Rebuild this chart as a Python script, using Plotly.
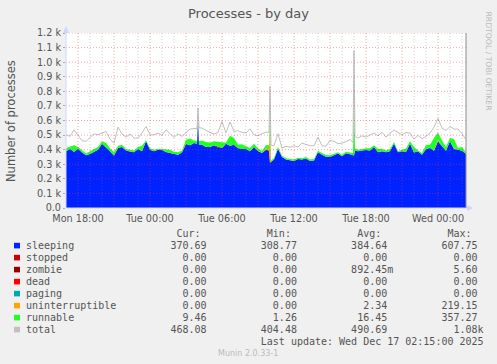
import plotly.graph_objects as go
import pandas as pd

# ---------------- data (20-minute samples, Mon 17:00 -> Wed 02:20) ----------------
grid_times = pd.date_range("2025-12-15 17:00", periods=101, freq="20min")

sleeping = [
    389, 405, 384, 407, 380, 361, 370, 384, 400, 441,
    416, 389, 359, 411, 418, 395, 386, 382, 405, 389,
    457, 400, 389, 400, 398, 384, 377, 373, 366, 382,
    439, 430, 445, 600, 434, 418, 418, 430, 414, 411,
    441, 427, 434, 409, 405, 405, 389, 418, 391, 377,
    400, 310, 332, 407, 350, 332, 330, 323, 336, 332,
    339, 323, 325, 382, 366, 352, 350, 359, 373, 355,
    375, 368, 360, 389, 395, 398, 395, 418, 382, 389,
    382, 389, 441, 382, 389, 382, 441, 380, 389, 366,
    405, 411, 393, 457, 423, 393, 457, 405, 400, 393,
    371,
]
runnable = [
    22, 18, 45, 11, 13, 12, 19, 21, 18, 16,
    29, 20, 23, 16, 16, 10, 14, 13, 13, 38,
    8, 9, 11, 7, 7, 21, 23, 13, 16, 13,
    29, 47, 18, 15, 29, 34, 32, 27, 34, 41,
    6, 69, 46, 25, 33, 18, 22, 23, 14, 14,
    22, 100, 11, 11, 9, 9, 9, 9, 9, 9,
    9, 9, 11, 11, 11, 12, 11, 11, 9, 11,
    11, 12, 357, 11, 12, 11, 14, 12, 23, 18,
    13, 16, 11, 7, 11, 23, 16, 38, 6, 11,
    27, 23, 87, 51, 40, 25, 23, 63, 11, 25,
    9.46,
]
uninterruptible = [
    0, 0, 0, 0, 0, 0, 0, 0, 0, 0,
    0, 0, 0, 0, 0, 0, 0, 0, 0, 0,
    0, 0, 0, 0, 0, 0, 0, 0, 0, 0,
    0, 0, 0, 0, 0, 0, 0, 0, 0, 0,
    0, 0, 0, 0, 0, 0, 0, 0, 4, 0,
    10, 219, 0, 0, 0, 0, 0, 0, 0, 0,
    0, 0, 0, 0, 0, 0, 0, 0, 0, 0,
    0, 0, 0, 0, 0, 0, 0, 0, 0, 0,
    0, 0, 0, 0, 0, 0, 0, 0, 0, 0,
    0, 0, 0, 10, 0, 0, 0, 5, 0, 0,
    0,
]
zombie = [
    0, 0, 1, 0, 0, 0, 0, 0, 0, 0,
    0, 0, 2, 0, 0, 0, 0, 0, 0, 0,
    0, 0, 0, 0, 0, 0, 0, 0, 0, 0,
    0, 0, 0, 0, 0, 0, 0, 0, 5.6, 0,
    0, 0, 0, 0, 0, 0, 0, 0, 0, 0,
    0, 0, 0, 0, 0, 0, 0, 0, 0, 0,
    1, 0, 0, 0, 0, 0, 0, 0, 0, 0,
    0, 0, 0, 0, 0, 0, 0, 0, 0, 0,
    0, 0, 0, 0, 0, 3, 0, 0, 0, 0,
    0, 0, 0, 0, 0, 0, 0, 0, 0, 0,
    0,
]
total = [
    502, 491, 536, 495, 461, 457, 480, 509, 502, 514,
    525, 473, 445, 555, 507, 486, 507, 480, 480, 514,
    559, 502, 502, 514, 498, 536, 507, 484, 509, 491,
    518, 541, 545, 686, 548, 530, 518, 507, 518, 594,
    514, 590, 525, 530, 518, 514, 543, 502, 495, 509,
    520, 834, 427, 509, 411, 423, 416, 427, 418, 445,
    434, 427, 427, 486, 427, 423, 464, 457, 441, 445,
    455, 470, 1080, 480, 495, 486, 500, 514, 495, 520,
    486, 509, 536, 518, 502, 518, 514, 473, 498, 475,
    491, 514, 555, 615, 548, 532, 559, 541, 541, 509,
    468,
]

# extra 5-minute samples beside the three narrow spikes
extra_times = ["2025-12-16 03:55", "2025-12-16 04:05", "2025-12-16 09:55",
               "2025-12-16 10:05", "2025-12-16 16:55", "2025-12-16 17:05"]
extra_sleeping = [440, 435, 395, 315, 365, 395]
extra_runnable = [20, 25, 30, 10, 12, 15]
extra_uninterruptible = [0, 0, 5, 0, 0, 0]
extra_zombie = [0, 0, 0, 0, 0, 0]
extra_total = [545, 550, 520, 430, 450, 490]

series_names = ["sleeping", "stopped", "zombie", "dead", "paging",
                "uninterruptible", "runnable", "total"]
series_colors = ["#0022FF", "#CC0000", "#990000", "#FF0000", "#00AAAA",
                 "#FFA500", "#22FF22", "#C0C0C0"]
stats_cur = ["370.69", "0.00", "0.00", "0.00", "0.00", "0.00", "9.46", "468.08"]
stats_min = ["308.77", "0.00", "0.00", "0.00", "0.00", "0.00", "1.26", "404.48"]
stats_avg = ["384.64", "0.00", "892.45m", "0.00", "0.00", "2.34", "16.45", "490.69"]
stats_max = ["607.75", "0.00", "5.60", "0.00", "0.00", "219.15", "357.27", "1.08k"]

y_tickvals = [0, 100, 200, 300, 400, 500, 600, 700, 800, 900, 1000, 1100, 1200]
y_ticktext = ["0.0", "0.1 k", "0.2 k", "0.3 k", "0.4 k", "0.5 k", "0.6 k",
              "0.7 k", "0.8 k", "0.9 k", "1.0 k", "1.1 k", "1.2 k"]
x_tickvals = ["2025-12-15 18:00", "2025-12-16 00:00", "2025-12-16 06:00",
              "2025-12-16 12:00", "2025-12-16 18:00", "2025-12-17 00:00"]
x_ticktext = ["Mon 18:00", "Tue 00:00", "Tue 06:00", "Tue 12:00",
              "Tue 18:00", "Wed 00:00"]

# merge grid samples and extra samples into one time-ordered table
df = pd.concat([
    pd.DataFrame({"t": grid_times, "sleeping": sleeping, "runnable": runnable,
                  "uninterruptible": uninterruptible, "zombie": zombie, "total": total}),
    pd.DataFrame({"t": pd.to_datetime(extra_times), "sleeping": extra_sleeping,
                  "runnable": extra_runnable, "uninterruptible": extra_uninterruptible,
                  "zombie": extra_zombie, "total": extra_total}),
]).sort_values("t").reset_index(drop=True)
df["stopped"] = 0.0
df["dead"] = 0.0
df["paging"] = 0.0

# ---------------- geometry helpers ----------------
W, H = 497, 364
L, R, T, B = 66, 31, 33, 156
PW, PH = W - L - R, H - T - B


def px(xp):
    return (xp - L) / PW


def py(yp):
    return (H - B - yp) / PH


TEXT = "#555555"
NB = "\u00a0"

fig = go.Figure()
for name, col in zip(series_names[:7], series_colors[:7]):
    fig.add_trace(go.Scatter(x=df["t"], y=df[name], name=name, mode="lines",
                             stackgroup="procs", line=dict(width=0, color=col),
                             fillcolor=col, hoverinfo="skip"))
fig.add_trace(go.Scatter(x=df["t"], y=df["total"], name="total", mode="lines",
                         line=dict(width=1, color=series_colors[7]), hoverinfo="skip"))

shapes = []
# grid (drawn above the data, like rrdtool)
for h in pd.date_range("2025-12-15 18:00", "2025-12-17 02:00", freq="1h"):
    red = h.hour % 3 == 0
    shapes.append(dict(type="line", xref="x", yref="paper", x0=h, x1=h, y0=0, y1=1,
                       layer="above",
                       line=dict(width=1, dash="1px,2px",
                                 color="rgba(235,60,60,0.45)" if red else "rgba(120,120,120,0.35)")))
for v in y_tickvals[1:]:
    shapes.append(dict(type="line", xref="paper", yref="y", x0=0, x1=1, y0=v, y1=v,
                       layer="above",
                       line=dict(width=1, dash="1px,2px", color="rgba(235,60,60,0.45)")))
# axes with arrows
AX = "#CFD6F8"
shapes.append(dict(type="line", xref="paper", yref="paper", x0=0, x1=0, y0=0, y1=py(28),
                   layer="above", line=dict(width=1, color=AX)))
shapes.append(dict(type="line", xref="paper", yref="paper", x0=0, x1=px(471), y0=0, y1=0,
                   layer="above", line=dict(width=1, color=AX)))
shapes.append(dict(type="path", xref="paper", yref="paper",
                   path=f"M {px(63)} {py(33)} L {px(69)} {py(33)} L {px(66)} {py(26)} Z",
                   fillcolor=AX, line=dict(width=0), layer="above"))
shapes.append(dict(type="path", xref="paper", yref="paper",
                   path=f"M {px(467)} {py(205)} L {px(467)} {py(211)} L {px(473)} {py(208)} Z",
                   fillcolor=AX, line=dict(width=0), layer="above"))
# right border rule
shapes.append(dict(type="line", xref="paper", yref="paper", x0=1, x1=1, y0=0, y1=1,
                   layer="above", line=dict(width=1, color="#8C8C8C")))

annotations = []
annotations.append(dict(text="Processes - by day", x=px(248), y=py(13.5), xref="paper", yref="paper",
                        showarrow=False, xanchor="center", yanchor="middle",
                        font=dict(family="DejaVu Sans", size=13, color=TEXT)))
annotations.append(dict(text="Number of processes", x=px(11), y=py(121), xref="paper", yref="paper",
                        showarrow=False, textangle=-90, xanchor="center", yanchor="middle",
                        font=dict(family="DejaVu Sans", size=11.5, color=TEXT)))
annotations.append(dict(text="RRDTOOL / TOBI OETIKER", x=px(488.5), y=py(62), xref="paper", yref="paper",
                        showarrow=False, textangle=90, xanchor="center", yanchor="middle",
                        font=dict(family="DejaVu Sans", size=7.7, color="#BBBBBB")))
annotations.append(dict(text="Munin 2.0.33-1", x=px(248), y=py(353.3), xref="paper", yref="paper",
                        showarrow=False, xanchor="center", yanchor="middle",
                        font=dict(family="DejaVu Sans", size=8, color="#BBBBBB")))

MONO = dict(family="DejaVu Sans Mono", size=10, color=TEXT)
X0 = 24.2
ROW0 = 245.6
header = " " * 25 + "Cur:" + " " * 11 + "Min:" + " " * 11 + "Avg:" + " " * 11 + "Max:"
annotations.append(dict(text=header.replace(" ", NB), x=px(X0), y=py(ROW0 - 12), xref="paper",
                        yref="paper", showarrow=False, xanchor="left", yanchor="middle", font=MONO))


def cell(s):
    if s[-1] in "mk":
        return s[:-1].rjust(6) + s[-1]
    return s.rjust(6) + " "


for k, name in enumerate(series_names):
    yc = ROW0 + 12 * k
    line = (name.ljust(24) + cell(stats_cur[k]) + " " * 8 + cell(stats_min[k]) + " " * 8
            + cell(stats_avg[k]) + " " * 8 + cell(stats_max[k]))
    annotations.append(dict(text=line.replace(" ", NB), x=px(X0), y=py(yc), xref="paper",
                            yref="paper", showarrow=False, xanchor="left", yanchor="middle",
                            font=MONO))
    shapes.append(dict(type="rect", xref="paper", yref="paper", x0=px(14), x1=px(20),
                       y0=py(yc - 2.8), y1=py(yc + 2.8), fillcolor=series_colors[k],
                       line=dict(width=0)))

last = " " * 39 + "Last update: Wed Dec 17 02:15:00 2025"
annotations.append(dict(text=last.replace(" ", NB), x=px(X0), y=py(ROW0 + 12 * 8), xref="paper",
                        yref="paper", showarrow=False, xanchor="left", yanchor="middle", font=MONO))

fig.update_layout(
    width=W, height=H, autosize=False,
    margin=dict(l=L, r=R, t=T, b=B, pad=0),
    paper_bgcolor="#F0F0F0", plot_bgcolor="#FFFFFF",
    showlegend=False,
    font=dict(family="DejaVu Sans", size=9.7, color=TEXT),
    xaxis=dict(type="date", range=[grid_times[0], grid_times[-1]], showgrid=False, zeroline=False,
               showline=False, tickmode="array", tickvals=x_tickvals, ticktext=x_ticktext,
               ticks="", ticklabelstandoff=3, tickfont=dict(size=9.7, color=TEXT)),
    yaxis=dict(range=[0, 1200], showgrid=False, zeroline=False, showline=False,
               tickmode="array", tickvals=y_tickvals, ticktext=y_ticktext,
               ticks="outside", ticklen=2, tickcolor="#AAAAAA",
               tickfont=dict(size=9.7, color=TEXT)),
    shapes=shapes,
    annotations=annotations,
)

fig.write_html("out.html", config={"displayModeBar": False, "staticPlot": True},
               post_script="document.body.style.margin='0';document.body.style.overflow='hidden';")
